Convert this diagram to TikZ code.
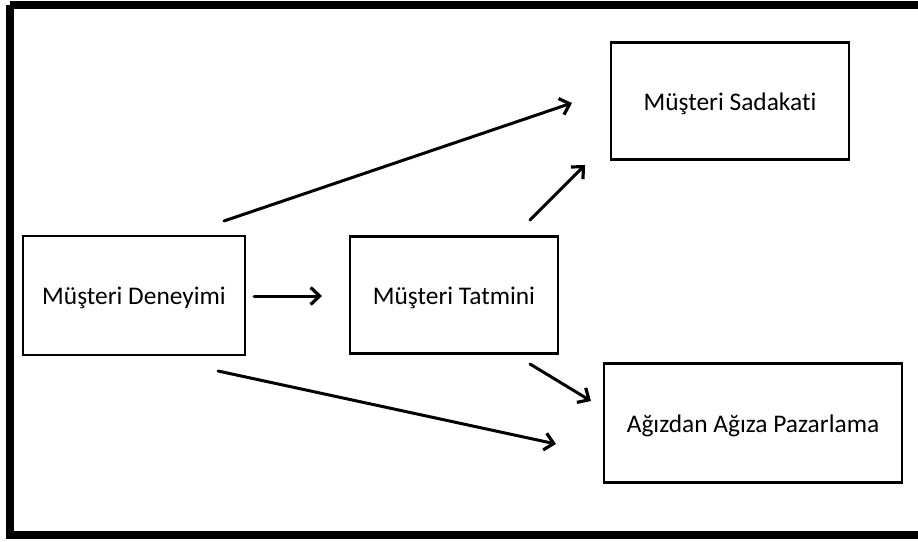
\documentclass[tikz,border=0pt]{standalone}
\usepackage{fontspec}
\setmainfont{Carlito}[Ligatures={NoCommon}]
\usetikzlibrary{arrows.meta}
% lower the label ink a little while keeping the reported box size
\newcommand{\boxtext}[1]{\raisebox{-2.5pt}[\height][\depth]{#1}}
\tikzset{
  box/.style={draw=black, line width=2.2pt, fill=white, inner sep=0pt,
              font=\fontsize{25.4}{30}\selectfont},
  link/.style={line width=3pt, -{Straight Barb[length=9pt,width=17pt,line width=3.2pt]}, line cap=round}
}
\begin{document}
\begin{tikzpicture}[x=1pt, y=-1pt]
  \useasboundingbox (0,0) rectangle (918,541);
  \fill[white] (0,0) rectangle (918,541);
  % heavy outer frame (runs past the right edge)
  \begin{scope}
    \clip (0,0) rectangle (918,541);
    \draw[line width=8pt] (10,5) -- (10,535) -- (930,535);
    \draw[line width=8pt] (10,5) -- (930,5);
  \end{scope}

  % boxes
  \node[box, minimum width=222pt, minimum height=119pt] (den) at (134,295.5) {\boxtext{Müşteri Deneyimi}};
  \node[box, minimum width=208pt, minimum height=117pt] (tat) at (454,295) {\boxtext{Müşteri Tatmini}};
  \node[box, minimum width=238pt, minimum height=117pt] (sad) at (730,101) {\boxtext{Müşteri Sadakati}};
  \node[box, minimum width=298pt, minimum height=119pt] (paz) at (753,423) {\boxtext{Ağızdan Ağıza Pazarlama}};

  % arrow end points
  \coordinate (s1) at (224,221);
  \coordinate (e1) at (572,103);
  \coordinate (s2) at (530,220);
  \coordinate (e2) at (585,165);
  \coordinate (s3) at (254,296);
  \coordinate (e3) at (322,296);
  \coordinate (s4) at (530,364);
  \coordinate (e4) at (591,401);
  \coordinate (s5) at (218,371);
  \coordinate (e5) at (556,444);

  \draw[link] (s1) -- (e1);
  \draw[link] (s2) -- (e2);
  \draw[link] (s3) -- (e3);
  \draw[link] (s4) -- (e4);
  \draw[link] (s5) -- (e5);
\end{tikzpicture}
\end{document}
